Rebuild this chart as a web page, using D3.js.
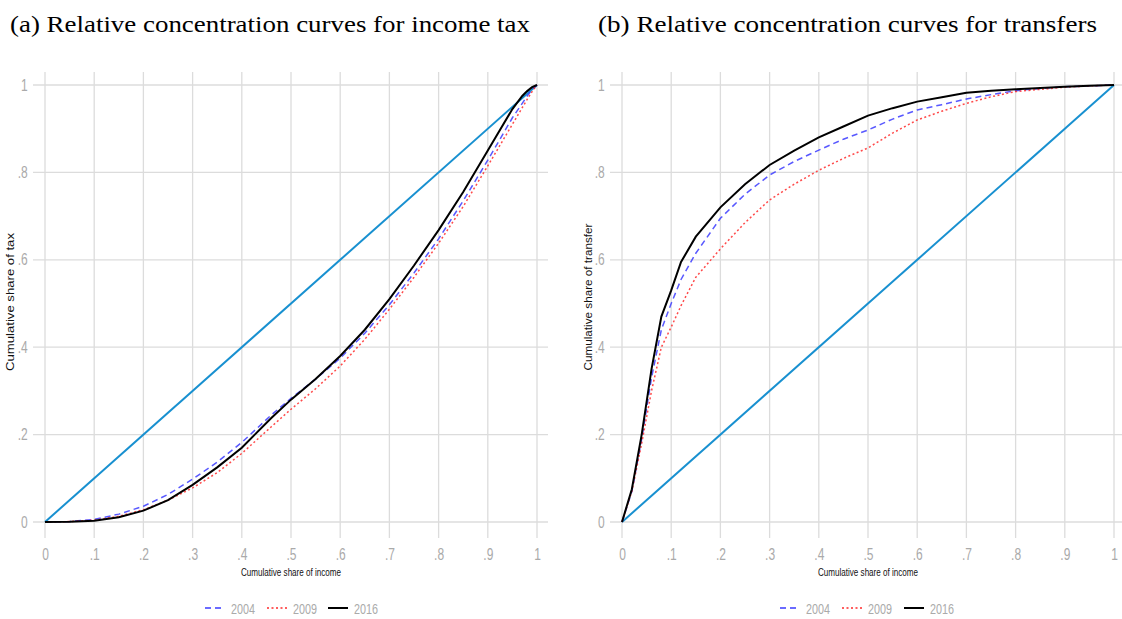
<!DOCTYPE html>
<html><head><meta charset="utf-8">
<script src="https://cdn.jsdelivr.net/npm/d3@7/dist/d3.min.js"></script>
<style>
body{margin:0;background:#fff;}
svg{display:block;}
.tick text{font-family:"Liberation Sans",Arial,sans-serif;}
</style></head>
<body><svg id="c" width="1122" height="619"></svg>
<script>
// ---- data ----
const xTicks = [0,.1,.2,.3,.4,.5,.6,.7,.8,.9,1];
const xTickLabels = ["0",".1",".2",".3",".4",".5",".6",".7",".8",".9","1"];
const yTicks = [0,.2,.4,.6,.8,1];
const yTickLabels = ["0",".2",".4",".6",".8","1"];
const years = ["2004","2009","2016"];

// (a) income tax
const taxX    = [0, .05, .1, .15, .2, .25, .3, .35, .4, .46, .5, .55, .6, .65, .7, .75, .8, .85, .9, .95, .97, .98, .99, 1];
const tax2004 = [0, .001, .006, .018, .036, .063, .098, .137, .182, .245, .283, .327, .375, .432, .497, .57, .648, .735, .828, .925, .958, .975, .99, 1];
const tax2009 = [0, .001, .004, .013, .028, .05, .078, .113, .157, .218, .258, .305, .357, .418, .487, .56, .638, .722, .815, .91, .948, .967, .985, 1];
const tax2016 = [0, .0005, .003, .011, .026, .05, .085, .125, .17, .238, .28, .327, .38, .44, .51, .587, .668, .755, .85, .945, .975, .986, .995, 1];

// (b) transfers
const trX      = [0, .02, .04, .06, .08, .1, .12, .15, .2, .25, .3, .35, .4, .45, .5, .55, .6, .65, .7, .75, .8, .85, .9, .95, 1];
const tr2004   = [0, .07, .19, .33, .44, .50, .555, .615, .695, .75, .794, .825, .851, .876, .897, .922, .943, .955, .968, .978, .987, .992, .996, .998, 1];
const tr2009   = [0, .07, .18, .30, .40, .446, .495, .56, .625, .685, .737, .773, .805, .832, .856, .89, .92, .94, .958, .973, .985, .99, .995, .998, 1];
const tr2016   = [0, .075, .2, .35, .47, .53, .595, .653, .72, .773, .817, .85, .88, .905, .93, .947, .962, .972, .982, .987, .99, .993, .996, .998, 1];

const equality = [0, 1];

const svg = d3.select("#c");
const styles = {
  "2004": {color:"#3b3bff", dash:"6,4", width:1.5},
  "2009": {color:"#ff2a2a", dash:"2,2.5", width:1.5},
  "2016": {color:"#000000", dash:null, width:2}
};

function panel(opt){
  const x = d3.scaleLinear().domain([0,1]).range([opt.x0, opt.x0+492]);
  const y = d3.scaleLinear().domain([0,1]).range([522, 85]);
  const g = svg.append("g");

  // title
  g.append("text").attr("x", opt.tx).attr("y", 32)
    .attr("font-family","'Liberation Serif','DejaVu Serif',serif")
    .attr("font-size", 24).attr("fill","#000")
    .attr("textLength", opt.tw).attr("lengthAdjust","spacingAndGlyphs").text(opt.title);

  // vertical grid
  g.append("g").selectAll("line").data(xTicks).join("line")
    .attr("x1", d=>x(d)).attr("x2", d=>x(d)).attr("y1", 72).attr("y2", 538)
    .attr("stroke","#dcdcdc").attr("stroke-width",1.3);
  // horizontal grid
  g.append("g").selectAll("line").data(yTicks).join("line")
    .attr("x1", opt.x0-12).attr("x2", opt.gridRight).attr("y1", d=>y(d)).attr("y2", d=>y(d))
    .attr("stroke","#dcdcdc").attr("stroke-width",1.3);

  // axes (labels only)
  const xa = g.append("g").attr("transform","translate(0,538)")
    .call(d3.axisBottom(x).tickValues(xTicks).tickFormat((d,i)=>xTickLabels[i]).tickSize(0).tickPadding(11));
  xa.select(".domain").remove();
  xa.selectAll("text").attr("font-size",16).attr("fill","#aaaaaa").attr("transform","scale(0.75,1)");
  const ya = g.append("g").attr("transform",`translate(${opt.x0-15},0)`)
    .call(d3.axisLeft(y).tickValues(yTicks).tickFormat((d,i)=>yTickLabels[i]).tickSize(0).tickPadding(3));
  ya.select(".domain").remove();
  ya.selectAll("text").attr("font-size",16).attr("fill","#aaaaaa").attr("transform","scale(0.75,1)");

  // axis titles
  g.append("text").attr("x", x(0.5)-100/2).attr("y", 576)
    .attr("font-family","'Liberation Sans',Arial,sans-serif")
    .attr("font-size",11).attr("fill","#111")
    .attr("textLength",100).attr("lengthAdjust","spacingAndGlyphs").text("Cumulative share of income");
  g.append("text").attr("transform",`translate(${opt.ytx},${opt.yty + opt.ytw/2}) rotate(-90)`)
    .attr("font-family","'Liberation Sans',Arial,sans-serif")
    .attr("font-size",11).attr("fill","#111")
    .attr("textLength",opt.ytw).attr("lengthAdjust","spacingAndGlyphs").text(opt.ytitle);

  const line = d3.line().x(d=>x(d[0])).y(d=>y(d[1]));

  // equality line
  g.append("path").datum(equality.map(v=>[v,v])).attr("d", line)
    .attr("fill","none").attr("stroke","#1890d0").attr("stroke-width",2);

  // series
  opt.series.forEach((vals,i)=>{
    const s = styles[years[i]];
    g.append("path").datum(opt.xs.map((v,j)=>[v, vals[j]])).attr("d", line)
      .attr("fill","none").attr("stroke", s.color).attr("stroke-width", s.width)
      .attr("stroke-dasharray", s.dash).attr("stroke-opacity", i===2?1:0.85);
  });

  // legend
  const lg = g.append("g");
  opt.legendX.forEach((lx,i)=>{
    const s = styles[years[i]];
    lg.append("line").attr("x1", lx).attr("x2", lx+20).attr("y1", 608).attr("y2", 608)
      .attr("stroke", s.color).attr("stroke-width", s.width).attr("stroke-dasharray", s.dash);
    lg.append("text").attr("x", lx+26).attr("y", 614)
      .attr("font-family","'Liberation Sans',Arial,sans-serif")
      .attr("font-size",15).attr("fill","#aaaaaa")
      .attr("textLength",24).attr("lengthAdjust","spacingAndGlyphs").text(years[i]);
  });
}

panel({x0:45, tx:10, tw:520, gridRight:548, title:"(a) Relative concentration curves for income tax",
  ytitle:"Cumulative share of tax", ytx:14, yty:302, ytw:138, xs:taxX, series:[tax2004,tax2009,tax2016],
  legendX:[205,267,328]});
panel({x0:622, tx:598, tw:499, gridRight:1122, title:"(b) Relative concentration curves for transfers",
  ytitle:"Cumulative share of transfer", ytx:592, yty:297, ytw:147, xs:trX, series:[tr2004,tr2009,tr2016],
  legendX:[780,842,904]});
</script>
</body></html>
